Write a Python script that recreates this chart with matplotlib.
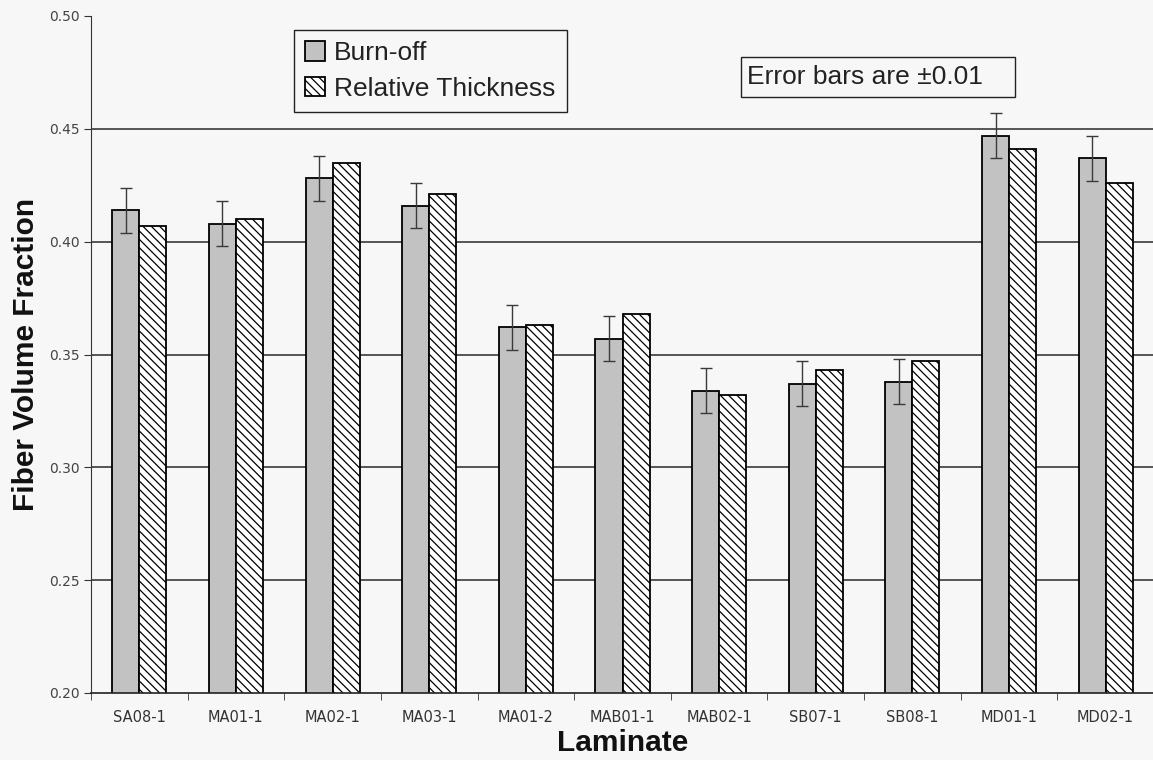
import numpy as np
import matplotlib.pyplot as plt
from matplotlib.patches import Rectangle

# Laminates and measured fiber volume fractions
laminates = ['SA08-1', 'MA01-1', 'MA02-1', 'MA03-1', 'MA01-2', 'MAB01-1',
             'MAB02-1', 'SB07-1', 'SB08-1', 'MD01-1', 'MD02-1']
burn_off = [0.414, 0.408, 0.428, 0.416, 0.362, 0.357,
            0.334, 0.337, 0.338, 0.447, 0.437]
rel_thick = [0.407, 0.410, 0.435, 0.421, 0.363, 0.368,
             0.332, 0.343, 0.347, 0.441, 0.426]
err = 0.01
yticks = [0.20, 0.25, 0.30, 0.35, 0.40, 0.45, 0.50]

bg = '#f7f7f7'
plt.rcParams['hatch.linewidth'] = 0.9
fig = plt.figure(figsize=(11.53, 7.6), dpi=100, facecolor=bg)
ax = fig.add_axes([91/1153, 67/760, 1063/1153, 677/760], facecolor=bg)

x = np.arange(len(laminates))
w = 0.28

# horizontal grid lines (behind bars)
for yv in yticks[1:-1]:
    ax.axhline(yv, color='#2a2a2a', lw=1.1, zorder=0)

b1 = ax.bar(x - w/2, burn_off, w, bottom=0, color='#c2c2c2',
            edgecolor='black', lw=1.3, zorder=2, label='Burn-off')
b2 = ax.bar(x + w/2, rel_thick, w, bottom=0, color='white',
            edgecolor='black', lw=1.3, hatch='\\\\\\\\', zorder=2,
            label='Relative Thickness')
ax.errorbar(x - w/2, burn_off, yerr=err, fmt='none', ecolor='#3a3a3a',
            elinewidth=1.0, capsize=4, capthick=1.0, zorder=3)

ax.set_xlim(-0.5, len(laminates) - 0.5)
ax.set_ylim(0.20, 0.50)
ax.set_yticks(yticks)
ax.set_yticklabels(['%.2f' % v for v in yticks])
ax.set_xticks(x)
ax.set_xticklabels(laminates)
ax.set_xticks(np.arange(len(laminates) + 1) - 0.5, minor=True)
ax.tick_params(axis='x', which='major', length=0, pad=12,
               labelsize=10.5, labelcolor='#333333')
ax.tick_params(axis='x', which='minor', length=5, direction='out',
               color='#333333')
ax.tick_params(axis='y', length=5, direction='out', labelsize=10,
               labelcolor='#444444', color='#333333', pad=3)

for s in ['top', 'right']:
    ax.spines[s].set_visible(False)
ax.spines['left'].set_color('#333333')
ax.spines['bottom'].set_color('#222222')
ax.spines['bottom'].set_linewidth(1.2)

ax.set_ylabel('Fiber Volume Fraction', fontsize=21.5, fontweight='bold',
              family='Liberation Sans', labelpad=7, color='#111111')
ax.set_xlabel('Laminate', fontsize=21.5, fontweight='bold',
              family='Liberation Sans', labelpad=3, color='#111111')

leg = ax.legend(handles=[b1, b2], loc='upper left',
                bbox_to_anchor=(294/1153, 1 - 30/760),
                bbox_transform=fig.transFigure, fancybox=False,
                borderaxespad=0, edgecolor='#222222', facecolor=bg,
                framealpha=1, handlelength=0.75, handleheight=0.75,
                handletextpad=0.35, borderpad=0.42, labelspacing=0.45,
                prop={'family': 'Liberation Sans', 'size': 19})
leg.get_frame().set_linewidth(1.0)
for t in leg.get_texts():
    t.set_color('#222222')

# note box
fig.patches.append(Rectangle((741/1153, 1 - 97/760), 274/1153, 40/760,
                             transform=fig.transFigure, fill=False,
                             edgecolor='#222222', lw=1.0))
fig.text(747/1153, 1 - 77/760, 'Error bars are \u00b10.01', ha='left',
         va='center', fontsize=19, family='Liberation Sans', color='#222222')

fig.savefig('out.png', dpi=100, facecolor=bg)
